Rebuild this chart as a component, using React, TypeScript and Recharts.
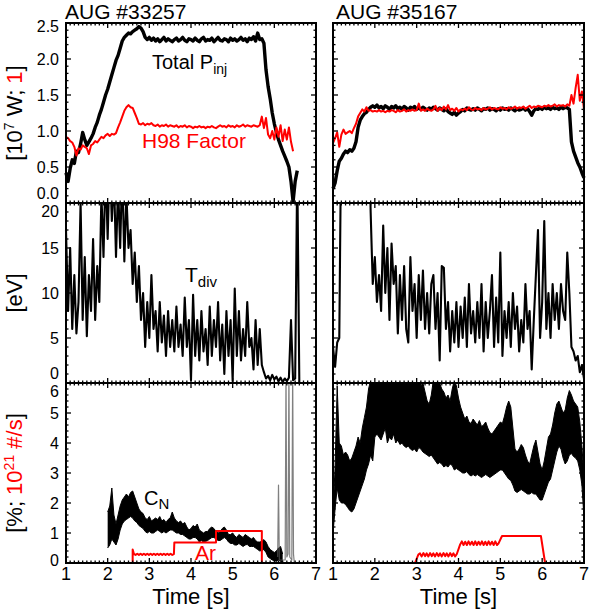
import React from "react";
import { ComposedChart, Line, Area, XAxis, YAxis } from "recharts";

const FONT = '"Liberation Sans", Arial, Helvetica, sans-serif';
const RED = "#ff0000";
const DT = 0.05;

// ---- shot #33257 (left column) ----
// total injected power [1e7 W], sampled every 0.05 s from t = 1.00
const pinjLeft = [
  0.42, 0.3, 0.48, 0.6, 0.55, 0.72, 0.7, 0.82, 0.98, 0.88,
  0.8, 0.85, 0.9, 0.96, 1.05, 1.12, 1.22, 1.3, 1.4, 1.5,
  1.58, 1.68, 1.78, 1.88, 1.98, 2.05, 2.15, 2.25, 2.3, 2.33,
  2.36, 2.35, 2.38, 2.4, 2.42, 2.45, 2.43, 2.38, 2.3, 2.27,
  2.3, 2.26, 2.29, 2.25, 2.28, 2.24, 2.27, 2.3, 2.25, 2.28,
  2.26, 2.24, 2.27, 2.29, 2.25, 2.27, 2.3, 2.26, 2.24, 2.28,
  2.27, 2.25, 2.29, 2.26, 2.24, 2.28, 2.3, 2.25, 2.27, 2.26,
  2.29, 2.24, 2.27, 2.3, 2.26, 2.25, 2.28, 2.27, 2.24, 2.29,
  2.26, 2.28, 2.25, 2.27, 2.3, 2.26, 2.28, 2.24, 2.29, 2.27,
  2.31, 2.25, 2.36, 2.27, 2.28, 2.22, 1.85, 1.62, 1.45, 1.25,
  1.1, 0.98, 0.88, 0.8, 0.72, 0.65, 0.58, 0.5, 0.3, 0.02,
  0.3, 0.45,
];
// H98 confinement factor, every 0.05 s from t = 1.00
const h98Left = [
  0.92, 0.9, 0.86, 0.84, 0.78, 0.66, 0.76, 0.74, 0.8, 0.78,
  0.76, 0.68, 0.8, 0.82, 0.86, 0.84, 0.88, 0.92, 0.9, 0.94,
  0.96, 0.93, 0.96, 0.95, 0.97, 1.05, 1.12, 1.2, 1.28, 1.33,
  1.36, 1.33, 1.32, 1.25, 1.18, 1.1, 1.09, 1.11, 1.08, 1.1,
  1.09, 1.11, 1.08, 1.07, 1.09, 1.06, 1.08, 1.07, 1.09, 1.06,
  1.08, 1.07, 1.06, 1.08, 1.05, 1.07, 1.06, 1.08, 1.05, 1.07,
  1.06, 1.04, 1.06, 1.05, 1.07, 1.05, 1.06, 1.04, 1.06, 1.05,
  1.07, 1.05, 1.04, 1.06, 1.08, 1.06, 1.07, 1.05, 1.08, 1.06,
  1.07, 1.05, 1.08, 1.06, 1.07, 1.09, 1.06, 1.08, 1.07, 1.06,
  1.08, 1.07, 1.06, 1.08, 1.2, 1.04, 1.18, 0.95, 0.9, 1.0,
  0.88, 1.05, 0.92, 1.08, 0.86, 1.02, 0.88, 1.05, 0.85, 0.72,
];
// divertor temperature [eV], every 0.05 s from t = 1.00
const tdivLeft = [
  17, 8, 15, 6, 12, 5.5, 9, 20, 7, 14,
  5.2, 12, 8, 16, 7, 13, 9, 21, 14, 24,
  16, 25, 18, 23, 14, 22, 15, 24, 13.5, 21,
  15, 17, 11, 14.5, 9, 13, 7, 10, 4, 9,
  5, 12, 6, 8, 3.5, 9, 4.5, 7.5, 3, 8,
  4, 7, 3.5, 8.5, 4, 6.5, 3, 9.5, 4, 7,
  0.3, 9.8, 3, 7, 2.5, 8, 3.5, 6, 2, 8.5,
  3, 7, 4, 9, 2.5, 6.5, 1, 8, 3, 7,
  0.2, 10.5, 3, 8, 2.5, 6, 3, 9, 4, 5,
  1.5, 7, 2, 6, 2, 1.2, 0.5, 0.8, 0.3, 0.9,
  0.4, 0.7, 0.2, 0.6, 0.1, 0.5, 0.2, 0.6, 7, 0.3,
  0.5, 24, 0,
];
// nitrogen concentration band [%], every 0.05 s from t = 2.00
const cnLeftLo = [
  0.5, 0.6, 0.8, 0.7, 0.6, 0.8, 1.1, 1.3, 1.4, 1.45,
  1.5, 1.55, 1.5, 1.4, 1.35, 1.25, 1.2, 1.15, 1.05, 1.0,
  1.05, 1.0, 1.0, 1.05, 1.1, 1.05, 1.0, 1.05, 1.0, 1.05,
  1.1, 1.1, 1.05, 1.0, 1.0, 0.95, 0.95, 0.9, 0.85, 0.8,
  0.8, 0.85, 0.85, 0.8, 0.7, 0.75, 0.7, 0.72, 0.75, 0.8,
  0.85, 0.85, 0.8, 0.75, 0.75, 0.8, 0.85, 0.8, 0.7, 0.65,
  0.65, 0.6, 0.6, 0.65, 0.6, 0.55, 0.6, 0.62, 0.55, 0.55,
  0.55, 0.5, 0.45, 0.4, 0.42, 0.45, 0.35, 0.2, 0.15, 0.1,
  0.08, 0.05, 0.1, 0.05, 0.05,
];
const cnLeftHi = [
  1.7, 1.9, 2.5, 1.6, 1.3, 1.6, 1.9, 2.1, 2.2, 2.3,
  2.2, 2.35, 2.4, 2.2, 2.0, 1.8, 1.7, 1.65, 1.5, 1.45,
  1.55, 1.4, 1.45, 1.5, 1.45, 1.55, 1.4, 1.45, 1.35, 1.45,
  1.5, 1.7, 1.5, 1.4, 1.35, 1.4, 1.3, 1.35, 1.2, 1.1,
  1.15, 1.25, 1.2, 1.3, 1.1, 1.05, 1.0, 1.05, 1.05, 1.15,
  1.2, 1.15, 1.05, 1.0, 1.05, 1.15, 1.2, 1.1, 0.95, 0.95,
  1.0, 0.9, 0.85, 0.95, 0.9, 0.85, 0.95, 0.9, 0.85, 0.8,
  0.85, 0.75, 0.7, 0.7, 0.72, 0.78, 0.7, 0.55, 0.45, 0.4,
  0.35, 0.4, 0.5, 0.55, 0.3,
];
// noisy end-of-shot spikes of the nitrogen signal
const cnSpikeT = [6.08, 6.1, 6.12, 6.26, 6.28, 6.3, 6.33, 6.35, 6.37, 6.42, 6.44, 6.46, 6.48];
const cnSpikeV = [0.2, 2.6, 0.1, 0.1, 6.5, 0.2, 0.3, 6.5, 0.2, 0.1, 6.5, 0.3, 0];
// argon puff [1e21 #/s]
const arLeftT = [
  1.0, 2.6, 2.6, 2.63, 2.67, 2.71, 2.75, 2.79, 2.83, 2.87, 2.91, 2.95, 2.99, 3.03, 3.07, 3.11,
  3.15, 3.19, 3.23, 3.27, 3.31, 3.35, 3.39, 3.43, 3.47, 3.51, 3.55, 3.59, 3.6, 4.6, 4.6, 5.7, 5.7, 7.0,
];
const arLeftV = [
  0, 0, 0.45, 0.3, 0.27, 0.31, 0.27, 0.31, 0.27, 0.31, 0.27, 0.31, 0.27, 0.31, 0.27, 0.31,
  0.27, 0.31, 0.27, 0.31, 0.27, 0.31, 0.27, 0.31, 0.27, 0.31, 0.27, 0.3, 0.68, 0.68, 1.07, 1.07, 0, 0,
];

// ---- shot #35167 (right column) ----
const pinjRight = [
  0.2, 0.28, 0.45, 0.58, 0.62, 0.68, 0.72, 0.7, 0.74, 0.72,
  0.76, 0.85, 1.05, 1.15, 1.2, 1.24, 1.26, 1.3, 1.33, 1.35,
  1.33, 1.36, 1.32, 1.34, 1.31, 1.35, 1.33, 1.3, 1.34, 1.32,
  1.35, 1.31, 1.33, 1.3, 1.34, 1.32, 1.29, 1.33, 1.31, 1.34,
  1.3, 1.32, 1.3, 1.33, 1.31, 1.29, 1.32, 1.3, 1.33, 1.31,
  1.29, 1.32, 1.3, 1.28, 1.31, 1.27, 1.25, 1.23, 1.26, 1.22,
  1.25, 1.27, 1.3, 1.28, 1.32, 1.3, 1.29, 1.31, 1.29, 1.32,
  1.3, 1.28, 1.31, 1.3, 1.32, 1.29, 1.31, 1.3, 1.28, 1.31,
  1.29, 1.32, 1.3, 1.31, 1.29, 1.32, 1.3, 1.28, 1.31, 1.29,
  1.3, 1.32, 1.29, 1.31, 1.27, 1.22, 1.28, 1.31, 1.3, 1.32,
  1.3, 1.33, 1.31, 1.32, 1.3, 1.33, 1.31, 1.32, 1.3, 1.33,
  1.31, 1.33, 1.32, 1.3, 0.85, 0.72, 0.64, 0.56, 0.5, 0.42,
  0.35,
];
const h98Right = [
  0.83, 0.9, 0.98, 0.78, 0.95, 1.02, 0.96, 0.98, 1.0, 0.97,
  1.04, 1.1, 1.2, 1.25, 1.3, 1.27, 1.33, 1.28, 1.29, 1.27,
  1.28, 1.27, 1.29, 1.27, 1.28, 1.26, 1.28, 1.27, 1.29, 1.28,
  1.26, 1.29, 1.27, 1.28, 1.3, 1.27, 1.29, 1.28, 1.3, 1.28,
  1.29, 1.38, 1.28, 1.3, 1.28, 1.31, 1.29, 1.28, 1.3, 1.35,
  1.28, 1.32, 1.29, 1.34, 1.3, 1.36, 1.29, 1.31, 1.28, 1.32,
  1.27, 1.3, 1.29, 1.31, 1.29, 1.33, 1.3, 1.29, 1.32, 1.3,
  1.31, 1.29, 1.32, 1.3, 1.31, 1.33, 1.3, 1.32, 1.31, 1.3,
  1.33, 1.31, 1.32, 1.3, 1.33, 1.31, 1.32, 1.34, 1.31, 1.33,
  1.32, 1.34, 1.31, 1.33, 1.35, 1.32, 1.34, 1.33, 1.35, 1.34,
  1.33, 1.35, 1.34, 1.36, 1.34, 1.35, 1.37, 1.34, 1.36, 1.35,
  1.36, 1.34, 1.37, 1.35, 1.5, 1.38, 1.6, 1.78, 1.42, 1.55,
  1.3,
];
const tdivRight = [
  4.0, 1.8, 4.5, 5.0, 30, 30, 30, 30, 30, 30,
  30, 30, 30, 30, 30, 30, 30, 30, 19, 11,
  14, 9, 12, 8, 17.5, 10, 15, 7, 15.5, 11,
  13, 5.5, 12, 7, 13, 6, 4.5, 14, 8, 11,
  5, 12, 7, 12.5, 6, 10, 5.5, 11, 12, 6,
  10, 2.5, 13, 12.8, 6, 9, 3.5, 8, 4.5, 9,
  4, 8.5, 5, 9.5, 4, 11, 5.5, 8, 4.5, 9,
  5, 11, 3.5, 9, 5, 8, 12, 4, 9.5, 4.5,
  14.5, 3, 8, 5, 9, 4, 10, 6, 8.5, 3.5,
  7, 4.5, 11, 6, 8, 1.5, 7, 12, 17, 5,
  9, 18, 6, 10, 5, 11, 7, 10, 6, 11,
  8, 7, 14.5, 10, 4, 3.5, 2.5, 3, 1.2, 2,
  0.5,
];
// every 0.05 s from t = 1.00
const cnRightLo = [
  1.0, 1.8, 2.5, 2.1, 2.0, 2.0, 1.95, 1.85, 1.75, 1.7,
  1.8, 2.0, 2.2, 2.4, 2.6, 2.8, 3.1, 3.3, 3.6, 3.4,
  4.2, 4.3, 4.2, 4.1, 4.3, 4.5, 4.0, 4.2, 4.1, 4.3,
  4.0, 4.1, 3.95, 4.0, 3.9, 3.85, 3.9, 3.8, 3.75, 3.8,
  3.7, 3.85, 3.8, 3.7, 3.65, 3.6, 3.55, 3.6, 3.5, 3.4,
  3.3, 3.35, 3.3, 3.2, 3.25, 3.2, 3.3, 3.25, 3.1, 3.15,
  3.1, 3.05, 3.0, 3.0, 3.05, 2.95, 2.9, 2.95, 2.9, 2.95,
  2.9, 2.85, 2.9, 2.95, 2.9, 2.85, 2.9, 2.95, 3.0, 3.05,
  3.1, 3.1, 3.0, 2.9, 2.8, 2.75, 2.6, 2.4, 2.35, 2.4,
  2.45, 2.4, 2.35, 2.3, 2.3, 2.35, 2.3, 2.3, 2.2, 2.1,
  2.1, 2.3, 2.5, 2.7, 2.8, 3.1, 3.4, 3.7, 3.9, 3.8,
  3.5, 3.3, 3.4, 3.6, 3.65, 3.55, 3.5, 3.4, 3.1, 2.6,
  1.5,
];
const cnRightHi = [
  1.6, 3.2, 5.9, 4.0, 3.9, 3.6, 3.7, 3.6, 3.4, 3.5,
  3.7, 3.9, 4.2, 4.0, 4.5, 4.85, 5.2, 5.8, 6.1, 6.4,
  6.8, 7.0, 6.9, 7.0, 6.9, 6.6, 6.8, 7.0, 6.7, 6.5,
  6.9, 6.6, 6.8, 6.5, 6.7, 6.4, 6.3, 6.6, 6.2, 6.3,
  6.1, 6.2, 5.9, 6.0, 5.7, 5.4, 5.3, 5.6, 6.1, 6.3,
  6.2, 6.0, 5.8, 5.7, 5.5, 5.6, 5.4, 5.8, 6.1, 5.9,
  5.5, 5.2, 5.0, 4.8, 4.9, 4.7, 4.65, 4.8, 4.7, 4.6,
  4.75, 4.55, 4.6, 4.7, 4.5, 4.35, 4.3, 4.4, 4.5, 4.6,
  4.7, 4.65, 4.9, 5.2, 5.4, 5.2, 4.5, 3.8, 3.7, 3.8,
  3.95, 3.85, 3.6, 3.4, 3.3, 3.6, 3.9, 4.1, 3.7, 3.3,
  3.1, 3.4, 3.8, 4.2, 4.3, 4.6, 5.0, 5.3, 5.4, 5.2,
  5.0, 5.1, 5.5, 5.75, 5.6, 5.4, 5.3, 5.2, 4.7, 3.9,
  2.8,
];
const arRightT = [
  1.0, 2.96, 3.04, 3.08, 3.12, 3.16, 3.2, 3.24, 3.28, 3.32, 3.36, 3.4, 3.44, 3.48, 3.52, 3.56, 3.6,
  3.64, 3.68, 3.72, 3.76, 3.8, 3.84, 3.88, 3.92, 3.96, 4.04, 4.08, 4.12, 4.16, 4.2, 4.24, 4.28, 4.32,
  4.36, 4.4, 4.44, 4.48, 4.52, 4.56, 4.6, 4.64, 4.68, 4.72, 4.76, 4.8, 4.84, 4.88, 4.92, 4.96, 5.04,
  5.97, 6.07, 7.0,
];
const arRightV = [
  0, 0, 0.28, 0.32, 0.22, 0.33, 0.23, 0.32, 0.22, 0.33, 0.23, 0.32, 0.22, 0.33, 0.23, 0.32, 0.22,
  0.33, 0.23, 0.32, 0.22, 0.33, 0.23, 0.32, 0.22, 0.3, 0.62, 0.72, 0.6, 0.71, 0.6, 0.72, 0.61, 0.71,
  0.6, 0.72, 0.6, 0.71, 0.61, 0.72, 0.6, 0.71, 0.6, 0.72, 0.61, 0.71, 0.6, 0.72, 0.6, 0.66, 0.9,
  0.9, 0, 0,
];

// ---- axes ----
const X_MAJOR = [1, 2, 3, 4, 5, 6, 7];
const X_LABELS = ["1", "2", "3", "4", "5", "6", "7"];
const P_MAJOR = [0, 0.5, 1, 1.5, 2, 2.5];
const P_LABELS = ["0.0", "0.5", "1.0", "1.5", "2.0", "2.5"];
const TDIV_MAJOR = [0, 5, 10, 15, 20];
const TDIV_LABELS = ["0", "5", "10", "15", "20"];
const CN_MAJOR = [0, 1, 2, 3, 4, 5, 6];
const CN_LABELS = ["0", "1", "2", "3", "4", "5", "6"];

const grid = (start: number, vals: number[]) =>
  vals.map((v, i) => ({ t: Math.round((start + i * DT) * 100) / 100, v }));
const band = (start: number, lo: number[], hi: number[]) =>
  lo.map((l, i) => ({ t: Math.round((start + i * DT) * 100) / 100, v: [l, hi[i]] }));
const pairs = (ts: number[], vs: number[]) => ts.map((t, i) => ({ t, v: vs[i] }));

function tickList(lo: number, hi: number, step: number) {
  const n = Math.round((hi - lo) / step);
  const out: number[] = [];
  for (let i = 0; i <= n; i++) out.push(Math.round((lo + i * step) * 1000) / 1000);
  return out;
}

const findMajor = (majors: number[], v: number) => majors.findIndex((m) => Math.abs(m - v) < 1e-6);

const xTick = (side: "top" | "bottom", labels: boolean) => (p: any) => {
  const idx = findMajor(X_MAJOR, p.payload.value);
  const len = idx >= 0 ? 5 : 2.5;
  const dir = side === "bottom" ? -1 : 1;
  return (
    <g>
      <line x1={p.x} x2={p.x} y1={p.y} y2={p.y + dir * len} stroke="#000" strokeWidth={1.3} />
      {labels && idx >= 0 && (
        <text x={p.x} y={p.y + 17} textAnchor="middle" fontSize={18} fontFamily={FONT} fill="#000">
          {X_LABELS[idx]}
        </text>
      )}
    </g>
  );
};

const yTick =
  (side: "left" | "right", majors: number[], labels: string[] | null, dyTop: number, dyBottom: number) =>
  (p: any) => {
    const idx = findMajor(majors, p.payload.value);
    const len = idx >= 0 ? 5 : 2.5;
    const dir = side === "left" ? 1 : -1;
    let dy = 0;
    if (idx === 0) dy = dyBottom;
    else if (idx === majors.length - 1) dy = dyTop;
    return (
      <g>
        <line x1={p.x} x2={p.x + dir * len} y1={p.y} y2={p.y} stroke="#000" strokeWidth={1.3} />
        {labels && idx >= 0 && (
          <text x={p.x - 7} y={p.y + dy + 5.5} textAnchor="end" fontSize={16} fontFamily={FONT} fill="#000">
            {labels[idx]}
          </text>
        )}
      </g>
    );
  };

// chart margins; every axis is 1px thick so it still renders
const ML = 62;
const MR = 8;
const MT = 8;
const MB = 28;
const AX = 1;
const frame = { stroke: "#000", strokeWidth: 2, strokeLinecap: "square" as const };

interface PanelProps {
  px: number;
  py: number;
  w: number;
  h: number;
  yDomain: [number, number];
  yMajor: number[];
  yLabels: string[] | null;
  yMinor: number;
  dyTop?: number;
  dyBottom?: number;
  showX?: boolean;
  children?: React.ReactNode;
}

function Panel({ px, py, w, h, yDomain, yMajor, yLabels, yMinor, dyTop = 4, dyBottom = -6, showX = false, children }: PanelProps) {
  const xTicks = tickList(1, 7, 0.1);
  const yTicks = tickList(yDomain[0], yDomain[1], yMinor);
  return (
    <div style={{ position: "absolute", left: px - ML - AX, top: py - MT - AX }}>
      <ComposedChart width={w + ML + MR + 2 * AX} height={h + MT + MB + 2 * AX}
        margin={{ top: MT, right: MR, bottom: MB, left: ML }}>
        <XAxis xAxisId="x" type="number" dataKey="t" domain={[1, 7]} ticks={xTicks} interval={0} height={AX}
          tickSize={0} tickMargin={0} axisLine={frame} tickLine={false} tick={xTick("bottom", showX)} />
        <XAxis xAxisId="xt" orientation="top" type="number" dataKey="t" domain={[1, 7]} allowDataOverflow
          ticks={xTicks} interval={0} height={AX} tickSize={0} tickMargin={0} axisLine={frame} tickLine={false}
          tick={xTick("top", false)} />
        <YAxis yAxisId="y" type="number" domain={yDomain} allowDataOverflow ticks={yTicks} interval={0}
          width={AX} tickSize={0} tickMargin={0} axisLine={frame} tickLine={false}
          tick={yTick("left", yMajor, yLabels, dyTop, dyBottom)} />
        <YAxis yAxisId="yr" orientation="right" type="number" domain={yDomain} allowDataOverflow ticks={yTicks}
          interval={0} width={AX} tickSize={0} tickMargin={0} axisLine={frame} tickLine={false}
          tick={yTick("right", yMajor, null, 0, 0)} />
        <YAxis yAxisId="yn" hide type="number" domain={yDomain} />
        {children}
      </ComposedChart>
    </div>
  );
}

const lineBase = { xAxisId: "x", dataKey: "v", type: "linear" as const, dot: false, activeDot: false, isAnimationActive: false, strokeLinejoin: "round" as const };

const COL_X = [66, 333];
const COL_W = [250, 251];
const ROW_Y = [23, 203, 383];
const PH = 180;

export default function App() {
  return (
    <div style={{ position: "absolute", left: 0, top: 0, width: 589, height: 609, background: "#fff", fontFamily: FONT }}>
      {/* row 1: power & H98 */}
      <Panel px={COL_X[0]} py={ROW_Y[0]} w={COL_W[0]} h={PH} yDomain={[0, 2.5]} yMajor={P_MAJOR} yLabels={P_LABELS}
        yMinor={0.1} dyTop={3.5} dyBottom={-9.5}>
        <Line {...lineBase} yAxisId="yn" data={grid(1, pinjLeft)} stroke="#000" strokeWidth={3.4} />
        <Line {...lineBase} yAxisId="yn" data={grid(1, h98Left)} stroke={RED} strokeWidth={2} />
      </Panel>
      <Panel px={COL_X[1]} py={ROW_Y[0]} w={COL_W[1]} h={PH} yDomain={[0, 2.5]} yMajor={P_MAJOR} yLabels={null} yMinor={0.1}>
        <Line {...lineBase} yAxisId="yn" data={grid(1, pinjRight)} stroke="#000" strokeWidth={3.4} />
        <Line {...lineBase} yAxisId="yn" data={grid(1, h98Right)} stroke={RED} strokeWidth={2} />
      </Panel>

      {/* row 2: Tdiv */}
      <Panel px={COL_X[0]} py={ROW_Y[1]} w={COL_W[0]} h={PH} yDomain={[0, 20]} yMajor={TDIV_MAJOR} yLabels={TDIV_LABELS}
        yMinor={1} dyTop={8.5} dyBottom={-9.5}>
        <Line {...lineBase} yAxisId="y" data={grid(1, tdivLeft)} stroke="#000" strokeWidth={2.1} />
      </Panel>
      <Panel px={COL_X[1]} py={ROW_Y[1]} w={COL_W[1]} h={PH} yDomain={[0, 20]} yMajor={TDIV_MAJOR} yLabels={null} yMinor={1}>
        <Line {...lineBase} yAxisId="y" data={grid(1, tdivRight)} stroke="#000" strokeWidth={2.1} />
      </Panel>

      {/* row 3: CN & Ar */}
      <Panel px={COL_X[0]} py={ROW_Y[2]} w={COL_W[0]} h={PH} yDomain={[0, 6]} yMajor={CN_MAJOR} yLabels={CN_LABELS}
        yMinor={0.2} dyTop={8.5} dyBottom={-3} showX>
        <Area xAxisId="x" yAxisId="y" data={band(2, cnLeftLo, cnLeftHi)} dataKey="v" type="linear" stroke="#000"
          strokeWidth={1} fill="#000" fillOpacity={1} dot={false} activeDot={false} isAnimationActive={false} />
        <Line {...lineBase} yAxisId="y" data={pairs(cnSpikeT, cnSpikeV)} stroke="#555" strokeOpacity={0.75} strokeWidth={1.2} />
        <Line {...lineBase} yAxisId="yn" data={pairs(arLeftT, arLeftV)} stroke={RED} strokeWidth={2} />
      </Panel>
      <Panel px={COL_X[1]} py={ROW_Y[2]} w={COL_W[1]} h={PH} yDomain={[0, 6]} yMajor={CN_MAJOR} yLabels={null}
        yMinor={0.2} showX>
        <Area xAxisId="x" yAxisId="y" data={band(1, cnRightLo, cnRightHi)} dataKey="v" type="linear" stroke="#000"
          strokeWidth={1} fill="#000" fillOpacity={1} dot={false} activeDot={false} isAnimationActive={false} />
        <Line {...lineBase} yAxisId="yn" data={pairs(arRightT, arRightV)} stroke={RED} strokeWidth={2} />
      </Panel>

      {/* titles, axis labels and annotations */}
      <svg width={589} height={609} style={{ position: "absolute", left: 0, top: 0, pointerEvents: "none" }} fontFamily={FONT}>
        <text x={65} y={19} fontSize={21} fill="#000">AUG #33257</text>
        <text x={336} y={19} fontSize={21} fill="#000">AUG #35167</text>

        <text transform="translate(22,113) rotate(-90)" textAnchor="middle" fontSize={22} fill="#000">
          [10<tspan dy={-8} fontSize={14}>7</tspan><tspan dy={8}> W; </tspan><tspan fill={RED}>1</tspan>]
        </text>
        <text transform="translate(22,293) rotate(-90)" textAnchor="middle" fontSize={22} fill="#000">[eV]</text>
        <text transform="translate(22,473) rotate(-90)" textAnchor="middle" fontSize={22} fill="#000">
          [%; <tspan fill={RED}>10</tspan><tspan fill={RED} dy={-8} fontSize={14}>21</tspan><tspan fill={RED} dy={8}> #/s</tspan>]
        </text>

        <text x={191} y={604} textAnchor="middle" fontSize={22} fill="#000">Time [s]</text>
        <text x={458.5} y={604} textAnchor="middle" fontSize={22} fill="#000">Time [s]</text>

        <text x={152} y={69} fontSize={20} fill="#000">
          Total P<tspan dy={5} fontSize={14}>inj</tspan>
        </text>
        <text x={142} y={148} fontSize={21} fill={RED}>H98 Factor</text>
        <text x={185} y={282} fontSize={21} fill="#000">
          T<tspan dy={5} fontSize={15}>div</tspan>
        </text>
        <text x={144} y={505} fontSize={20} fill="#000">
          C<tspan dy={4} fontSize={15}>N</tspan>
        </text>
        <text x={195} y={560} fontSize={21} fill={RED}>Ar</text>
      </svg>
    </div>
  );
}
